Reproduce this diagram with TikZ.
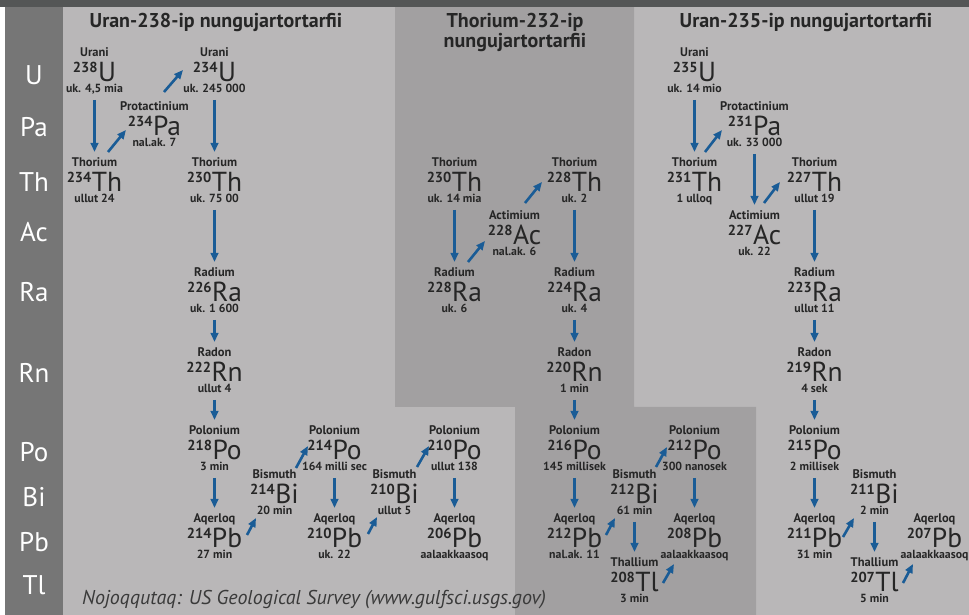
\documentclass[tikz,border=0pt]{standalone}
\usepackage{fontspec}
\setmainfont{PT Sans}
\usepackage{tikz}
\usetikzlibrary{arrows.meta, positioning}

\definecolor{bgmain}{RGB}{185,183,184}
\definecolor{bgthor}{RGB}{162,160,161}
\definecolor{leftcol}{RGB}{118,118,118}
\definecolor{topbar}{RGB}{84,86,86}
\definecolor{ink}{RGB}{38,38,38}
\definecolor{decayblue}{RGB}{26,92,150}
\definecolor{srcgrey}{RGB}{58,58,58}

% mass number raised in front of the element symbol
\newcommand\nuc[2]{\raisebox{9.5pt}{\fontsize{14.5}{14.5}\selectfont\bfseries #1}\hspace{0.5pt}#2}

\begin{document}
\begin{tikzpicture}[x=1pt, y=1pt,
    sym/.style={font=\fontsize{27.5}{27.5}\selectfont, text=ink, inner sep=0pt,
        anchor=base, text height=19pt, text depth=0pt},
    isoname/.style={font=\fontsize{12.5}{12.5}\selectfont\bfseries, text=ink,
        inner sep=0pt, anchor=base, label distance=6pt},
    isohl/.style={font=\fontsize{11.8}{11.8}\selectfont\bfseries, text=ink,
        inner sep=0pt, anchor=base, label distance=10pt},
    heading/.style={font=\fontsize{20}{20}\selectfont\bfseries, text=ink,
        inner sep=0pt, anchor=base, align=center},
    rowlabel/.style={font=\fontsize{27}{27}\selectfont, text=white,
        inner sep=0pt, anchor=base},
    decay/.style={-{Triangle[width=7.5pt, length=9pt]}, line width=2.6pt, decayblue}]

    % Backgrounds
    \useasboundingbox (0,0) rectangle (969,615);
    \fill[white] (0,0) rectangle (969,615);
    \fill[bgmain] (63,0) rectangle (969,608);
    \fill[bgthor] (395,608) -- (634,608) -- (634,208) -- (756,208)
        -- (756,0) -- (515,0) -- (515,208) -- (395,208) -- cycle;
    \fill[leftcol] (5,0) rectangle (63,608);
    \fill[topbar] (0,608) rectangle (969,615);

    % Element rows
    \node[rowlabel] (lu) at (34,530) {U};
    \node[rowlabel] (lpa) at (34,478) {Pa};
    \node[rowlabel] (lth) at (34,423) {Th};
    \node[rowlabel] (lac) at (34,373) {Ac};
    \node[rowlabel] (lra) at (34,313) {Ra};
    \node[rowlabel] (lrn) at (34,232) {Rn};
    \node[rowlabel] (lpo) at (34,153) {Po};
    \node[rowlabel] (lbi) at (34,108) {Bi};
    \node[rowlabel] (lpb) at (34,63) {Pb};
    \node[rowlabel] (ltl) at (34,20) {Tl};

    % Series headings
    \node[heading] (h238) at (216,587) {Uran-238-ip nungujartortarfii};
    \node[heading] (h232) at (515,567) {Thorium-232-ip\\nungujartortarfii};
    \node[heading] (h235) at (806,587) {Uran-235-ip nungujartortarfii};

    % Uran-238 series
    \node[sym, label={[isoname]above:Urani}, label={[isohl]below:uk. 4,5 mia}] (u238) at (94.5,533) {\nuc{238}{U}};
    \node[sym, label={[isoname]above:Protactinium}, label={[isohl]below:nal.ak. 7}] (pa234) at (154.5,479) {\nuc{234}{Pa}};
    \node[sym, label={[isoname]above:Thorium}, label={[isohl]below:ullut 24}] (th234) at (94.5,423) {\nuc{234}{Th}};
    \node[sym, label={[isoname]above:Urani}, label={[isohl]below:uk. 245 000}] (u234) at (214.5,533) {\nuc{234}{U}};
    \node[sym, label={[isoname]above:Thorium}, label={[isohl]below:uk. 75 00}] (th230) at (214.5,423) {\nuc{230}{Th}};
    \node[sym, label={[isoname]above:Radium}, label={[isohl]below:uk. 1 600}] (ra226) at (214.5,313) {\nuc{226}{Ra}};
    \node[sym, label={[isoname]above:Radon}, label={[isohl]below:ullut 4}] (rn222) at (214.5,233) {\nuc{222}{Rn}};
    \node[sym, label={[isoname]above:Polonium}, label={[isohl]below:3 min}] (po218) at (214.5,155) {\nuc{218}{Po}};
    \node[sym, label={[isoname]above:Aqerloq}, label={[isohl]below:27 min}] (pb214) at (214.5,67) {\nuc{214}{Pb}};
    \node[sym, label={[isoname]above:Bismuth}, label={[isohl]below:20 min}] (bi214) at (274.5,111) {\nuc{214}{Bi}};
    \node[sym, label={[isoname]above:Polonium}, label={[isohl]below:164 milli sec}] (po214) at (334.5,155) {\nuc{214}{Po}};
    \node[sym, label={[isoname]above:Aqerloq}, label={[isohl]below:uk. 22}] (pb210) at (334.5,67) {\nuc{210}{Pb}};
    \node[sym, label={[isoname]above:Bismuth}, label={[isohl]below:ullut 5}] (bi210) at (394.5,111) {\nuc{210}{Bi}};
    \node[sym, label={[isoname]above:Polonium}, label={[isohl]below:ullut 138}] (po210) at (454.5,155) {\nuc{210}{Po}};
    \node[sym, label={[isoname]above:Aqerloq}, label={[isohl]below:aalaakkaasoq}] (pb206) at (454.5,67) {\nuc{206}{Pb}};

    % Thorium-232 series
    \node[sym, label={[isoname]above:Thorium}, label={[isohl]below:uk. 14 mia}] (th232) at (454.5,423) {\nuc{230}{Th}};
    \node[sym, label={[isoname]above:Radium}, label={[isohl]below:uk. 6}] (ra228) at (454.5,313) {\nuc{228}{Ra}};
    \node[sym, label={[isoname]above:Actimium}, label={[isohl]below:nal.ak. 6}] (ac228) at (514.5,370) {\nuc{228}{Ac}};
    \node[sym, label={[isoname]above:Thorium}, label={[isohl]below:uk. 2}] (th228) at (574.5,423) {\nuc{228}{Th}};
    \node[sym, label={[isoname]above:Radium}, label={[isohl]below:uk. 4}] (ra224) at (574.5,313) {\nuc{224}{Ra}};
    \node[sym, label={[isoname]above:Radon}, label={[isohl]below:1 min}] (rn220) at (574.5,233) {\nuc{220}{Rn}};
    \node[sym, label={[isoname]above:Polonium}, label={[isohl]below:145 millisek}] (po216) at (574.5,155) {\nuc{216}{Po}};
    \node[sym, label={[isoname]above:Aqerloq}, label={[isohl]below:nal.ak. 11}] (pb212) at (574.5,67) {\nuc{212}{Pb}};
    \node[sym, label={[isoname]above:Bismuth}, label={[isohl]below:61 min}] (bi212) at (634.5,111) {\nuc{212}{Bi}};
    \node[sym, label={[isoname]above:Polonium}, label={[isohl]below:300 nanosek}] (po212) at (694.5,155) {\nuc{212}{Po}};
    \node[sym, label={[isoname]above:Thallium}, label={[isohl]below:3 min}] (tl208) at (634.5,23) {\nuc{208}{Tl}};
    \node[sym, label={[isoname]above:Aqerloq}, label={[isohl]below:aalaakkaasoq}] (pb208) at (694.5,67) {\nuc{208}{Pb}};

    % Uran-235 series
    \node[sym, label={[isoname]above:Urani}, label={[isohl]below:uk. 14 mio}] (u235) at (694.5,533) {\nuc{235}{U}};
    \node[sym, label={[isoname]above:Protactinium}, label={[isohl]below:uk. 33 000}] (pa231) at (754.5,479) {\nuc{231}{Pa}};
    \node[sym, label={[isoname]above:Thorium}, label={[isohl]below:1 ulloq}] (th231) at (694.5,423) {\nuc{231}{Th}};
    \node[sym, label={[isoname]above:Actimium}, label={[isohl]below:uk. 22}] (ac227) at (754.5,370) {\nuc{227}{Ac}};
    \node[sym, label={[isoname]above:Thorium}, label={[isohl]below:ullut 19}] (th227) at (814.5,423) {\nuc{227}{Th}};
    \node[sym, label={[isoname]above:Radium}, label={[isohl]below:ullut 11}] (ra223) at (814.5,313) {\nuc{223}{Ra}};
    \node[sym, label={[isoname]above:Radon}, label={[isohl]below:4 sek}] (rn219) at (814.5,233) {\nuc{219}{Rn}};
    \node[sym, label={[isoname]above:Polonium}, label={[isohl]below:2 millisek}] (po215) at (814.5,155) {\nuc{215}{Po}};
    \node[sym, label={[isoname]above:Bismuth}, label={[isohl]below:2 min}] (bi211) at (874.5,111) {\nuc{211}{Bi}};
    \node[sym, label={[isoname]above:Aqerloq}, label={[isohl]below:31 min}] (pb211) at (814.5,67) {\nuc{211}{Pb}};
    \node[sym, label={[isoname]above:Thallium}, label={[isohl]below:5 min}] (tl207) at (874.5,23) {\nuc{207}{Tl}};
    \node[sym, label={[isoname]above:Aqerloq}, label={[isohl]below:aalaakkaasoq}] (pb207) at (934.5,67) {\nuc{207}{Pb}};

    % Alpha decays (straight down)
    \foreach \a/\b in {u238/th234, u234/th230, th230/ra226, ra226/rn222, rn222/po218,
        po218/pb214, po214/pb210, po210/pb206, th232/ra228, th228/ra224, ra224/rn220,
        rn220/po216, po216/pb212, po212/pb208, bi212/tl208, u235/th231, pa231/ac227,
        th227/ra223, ra223/rn219, rn219/po215, po215/pb211, bi211/tl207}
        \draw[decay] ([yshift=-18pt]\a.base) -- ([yshift=40pt]\b.base);

    % Beta decays (diagonal)
    \draw[decay] ([shift={(13.5,40)}]th234.base) -- ([shift={(-28.5,6)}]pa234.base);
    \draw[decay] ([shift={(9.5,44)}]pa234.base) -- ([shift={(-31.5,12)}]u234.base);
    \draw[decay] ([shift={(32.5,13)}]pb214.base) -- ([shift={(-18.5,-14)}]bi214.base);
    \draw[decay] ([shift={(21.5,36)}]bi214.base) -- ([shift={(-26.5,14)}]po214.base);
    \draw[decay] ([shift={(33.5,14)}]pb210.base) -- ([shift={(-17.5,-13)}]bi210.base);
    \draw[decay] ([shift={(22.5,37)}]bi210.base) -- ([shift={(-25.5,14)}]po210.base);
    \draw[decay] ([shift={(13.5,40)}]ra228.base) -- ([shift={(-29.5,4)}]ac228.base);
    \draw[decay] ([shift={(10.5,42)}]ac228.base) -- ([shift={(-32.5,10)}]th228.base);
    \draw[decay] ([shift={(31.5,13)}]pb212.base) -- ([shift={(-19.5,-14)}]bi212.base);
    \draw[decay] ([shift={(21.5,37)}]bi212.base) -- ([shift={(-27.5,13)}]po212.base);
    \draw[decay] ([shift={(28.5,9)}]tl208.base) -- ([shift={(-20.5,-16)}]pb208.base);
    \draw[decay] ([shift={(10.5,40)}]th231.base) -- ([shift={(-32.5,6)}]pa231.base);
    \draw[decay] ([shift={(9.5,42)}]ac227.base) -- ([shift={(-34.5,10)}]th227.base);
    \draw[decay] ([shift={(28.5,11)}]pb211.base) -- ([shift={(-20.5,-14)}]bi211.base);
    \draw[decay] ([shift={(28.5,9)}]tl207.base) -- ([shift={(-21.5,-16)}]pb207.base);

    % Source
    \node[font=\fontsize{20}{20}\selectfont\itshape, text=srcgrey, inner sep=0pt,
        anchor=base west] (src) at (82,10) {Nojoqqutaq: US Geological Survey (www.gulfsci.usgs.gov)};
\end{tikzpicture}
\end{document}
